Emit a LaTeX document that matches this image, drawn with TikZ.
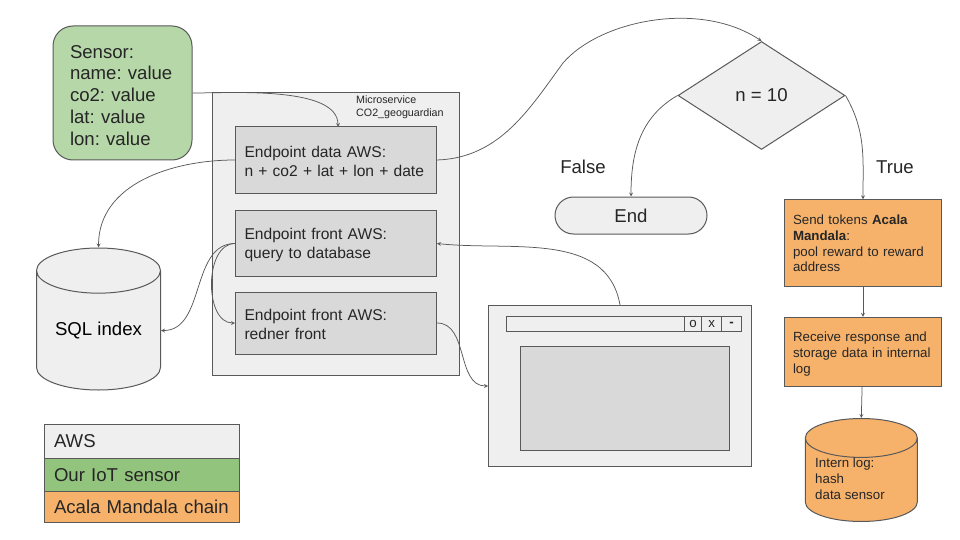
\documentclass[tikz,border=0pt]{standalone}
\usepackage{fontspec}
\setmainfont{Liberation Sans}
\frenchspacing
\usetikzlibrary{shapes,positioning,calc}
\definecolor{edgegray}{HTML}{595959}
\definecolor{awsgray}{HTML}{EFEFEF}
\definecolor{innergray}{HTML}{D9D9D9}
\definecolor{sensorgreen}{HTML}{B6D7A8}
\definecolor{legendgreen}{HTML}{93C47D}
\definecolor{chainorange}{HTML}{F6B26B}
\newcommand{\bigtxt}{\fontsize{18.6}{21.8}\selectfont}
\newcommand{\midtxt}{\fontsize{15.6}{19.4}\selectfont}
\newcommand{\smalltxt}{\fontsize{13.3}{15.9}\selectfont}
\newcommand{\tinytxt}{\fontsize{10.7}{12.6}\selectfont}

\begin{document}
\begin{tikzpicture}
  [x=1pt,y=-1pt,
   boxN/.style={rectangle,draw=edgegray,line width=1pt,inner sep=0pt,text=black!85},
   endpointN/.style={boxN,fill=innergray,minimum width=201pt,text width=183pt,align=left},
   stepN/.style={boxN,fill=chainorange,minimum width=157pt,text width=140pt,align=left,font=\smalltxt},
   legendN/.style={boxN,minimum width=195pt,text width=176pt,align=left,font=\bigtxt},
   dbN/.style={cylinder,shape border rotate=90,draw=edgegray,line width=1pt,inner sep=0pt,anchor=shape center},
   btnN/.style={boxN,minimum height=15pt,font=\smalltxt},
   link/.style={->,>=stealth,edgegray,line width=0.75pt}]

  \useasboundingbox (0,0) rectangle (960,540);

  % sensor and service
  \node[boxN,fill=sensorgreen,rounded corners=20pt,minimum width=139pt,minimum height=134pt,
        text width=105pt,align=left,font=\bigtxt] (sensor) at (122.5,93)
        {\rule{0pt}{17.5pt}Sensor:\\name: value\\co2: value\\lat: value\\lon: value};

  \node[boxN,fill=awsgray,minimum width=247pt,minimum height=282pt] (service) at (335.5,234) {};
  \node[anchor=north west,inner sep=0pt,align=left,font=\tinytxt,text=black!85] (servicetxt) at (356,96)
        {Microservice\\CO2\_geoguardian};

  \node[endpointN,minimum height=66pt,font=\midtxt] (data) at (336,160)
        {\rule{0pt}{14pt}Endpoint data AWS:\\n + co2 + lat + lon + date};
  \node[endpointN,minimum height=66pt,font=\midtxt] (query) at (336,243.5)
        {\rule{0pt}{14pt}Endpoint front AWS:\\query to database};
  \node[endpointN,minimum height=62pt,font=\midtxt] (render) at (336,323)
        {\rule{0pt}{14pt}Endpoint front AWS:\\redner front};

  % database
  \node[dbN,fill=awsgray,minimum width=124pt,minimum height=142pt,aspect=0.52,font=\bigtxt] (sql) at (98.5,319)
        {SQL index};

  % browser window
  \node[boxN,fill=awsgray,minimum width=263pt,minimum height=161pt] (window) at (620,386) {};
  \node[boxN,minimum width=235pt,minimum height=15pt] (bar) at (624,324) {};
  \node[btnN,minimum width=17.5pt] (btno) at (693,324) {o};
  \node[btnN,minimum width=20pt] (btnx) at (711.7,324) {x};
  \node[btnN,minimum width=20pt] (btnm) at (731.7,324) {\textbf{-}};
  \node[boxN,fill=innergray,minimum width=209pt,minimum height=104pt] (page) at (625,398.3) {};

  % decision
  \node[diamond,draw=edgegray,line width=1pt,fill=awsgray,inner sep=0pt,minimum width=167pt,minimum height=108pt,
        font=\bigtxt,text=black!85] (test) at (761.5,95.5) {n = 10};
  \node[rounded rectangle,draw=edgegray,line width=1pt,fill=awsgray,inner sep=0pt,minimum width=152pt,minimum height=37pt,
        font=\bigtxt,text=black!85] (stop) at (631,215.5) {End};
  \node[font=\bigtxt,text=black!85] (nolab) at (583,167) {False};
  \node[font=\bigtxt,text=black!85] (yeslab) at (895,167) {True};

  % chain
  \node[stepN,minimum height=87pt] (send) at (863,243.3)
        {Send tokens \textbf{Acala Mandala}:\\pool reward to reward address};
  \node[stepN,minimum height=69pt] (receive) at (863,351.8)
        {\rule{0pt}{14pt}Receive response and storage data in internal log};
  \node[dbN,fill=chainorange,minimum width=112pt,minimum height=103pt,aspect=0.56,font=\smalltxt] (log) at (861.3,470)
        {\phantom{data sensor}};
  \node[anchor=west,inner sep=0pt,align=left,font=\smalltxt,text=black!85] (logtxt) at (815,479)
        {Intern log:\\hash\\data sensor};

  % legend
  \node[legendN,fill=awsgray,minimum height=34pt] (awsleg) at (142,441.3) {AWS};
  \node[legendN,fill=legendgreen,minimum height=33.4pt] (iotleg) at (142,475) {Our IoT sensor};
  \node[legendN,fill=chainorange,minimum height=30.6pt] (chainleg) at (142,507) {Acala Mandala chain};

  % connectors
  \coordinate (bend) at (563,63);
  \draw[link,out=0,in=90,looseness=0.7] (sensor) to (338,127);
  \draw[link,out=180,in=90] (data) to (sql.top);
  \draw[link] (data.east) .. controls (500,158) and (530,108) .. (bend)
                          .. controls (600,20) and (700,0) .. (test.north);
  \draw[link,out=-150,in=90] (test.west) to (stop);
  \draw[link,out=-60,in=90] (test.east) to (send);
  \draw[link] (send) -- (receive);
  \draw[link] (receive) -- (log.top);
  \draw[link,out=180,in=0] (query) to (sql.east);
  \draw[link,out=180,in=180] (query.west) to (render.west);
  \draw[link,out=100,in=-6] (window.north) to (query.east);
  \draw[link,out=0,in=180] (render.east) to (window.west);
\end{tikzpicture}
\end{document}
